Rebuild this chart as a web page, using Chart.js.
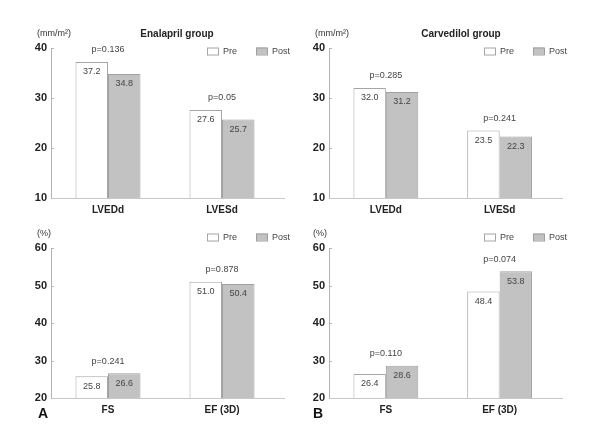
<!DOCTYPE html>
<html>
<head>
<meta charset="utf-8">
<script src="https://cdn.jsdelivr.net/npm/chart.js@4/dist/chart.umd.min.js"></script>
<style>
  html, body { margin: 0; padding: 0; background: #fff; }
  #wrap { position: relative; width: 594px; height: 430px; background: #fff; }
  .panel { position: absolute; width: 297px; height: 215px; }
</style>
</head>
<body>
<div id="wrap">
  <div class="panel" style="left:0;top:0"><canvas id="c1" width="297" height="215"></canvas></div>
  <div class="panel" style="left:297px;top:0"><canvas id="c2" width="297" height="215"></canvas></div>
  <div class="panel" style="left:0;top:215px"><canvas id="c3" width="297" height="215"></canvas></div>
  <div class="panel" style="left:297px;top:215px"><canvas id="c4" width="297" height="215"></canvas></div>
</div>
<script>
// ---- data ----
const dimCategories = ['LVEDd', 'LVESd'];
const funcCategories = ['FS', 'EF (3D)'];
const seriesNames = ['Pre', 'Post'];

const enalaprilDimPre = [37.2, 27.6];
const enalaprilDimPost = [34.8, 25.7];
const enalaprilDimP = ['p=0.136', 'p=0.05'];

const carvedilolDimPre = [32.0, 23.5];
const carvedilolDimPost = [31.2, 22.3];
const carvedilolDimP = ['p=0.285', 'p=0.241'];

const enalaprilFuncPre = [25.8, 51.0];
const enalaprilFuncPost = [26.6, 50.4];
const enalaprilFuncP = ['p=0.241', 'p=0.878'];

const carvedilolFuncPre = [26.4, 48.4];
const carvedilolFuncPost = [28.6, 53.8];
const carvedilolFuncP = ['p=0.110', 'p=0.074'];

const dimTicks = [10, 20, 30, 40];
const funcTicks = [20, 30, 40, 50, 60];

// ---- styling ----
const FONT = "'Liberation Sans', Arial, sans-serif";
const PRE_FILL = '#ffffff', PRE_BORDER = '#a6a6a6';
const POST_FILL = '#c2c2c2', POST_BORDER = '#a0a0a0';
const AXIS_COLOR = '#b4b4b4';

function makePanel(id, cfg) {
  const annot = {
    id: 'annot',
    afterDraw(chart) {
      const ctx = chart.ctx;
      const area = chart.chartArea;
      const xs = chart.scales.x, ys = chart.scales.y;
      ctx.save();
      // extend baseline
      ctx.strokeStyle = '#c8c8c8';
      ctx.lineWidth = 1;
      ctx.beginPath();
      ctx.moveTo(area.right, Math.round(area.bottom) + 0.5);
      ctx.lineTo(cfg.axisEnd, Math.round(area.bottom) + 0.5);
      ctx.stroke();
      // small inward ticks on y axis
      ctx.strokeStyle = AXIS_COLOR;
      ctx.beginPath();
      cfg.ticks.slice(1).forEach(v => {
        const y = Math.round(ys.getPixelForValue(v)) + 0.5;
        ctx.moveTo(area.left, y);
        ctx.lineTo(area.left + 3, y);
      });
      ctx.stroke();
      // value labels
      ctx.font = '9px ' + FONT;
      ctx.fillStyle = '#444';
      ctx.textAlign = 'center';
      ctx.textBaseline = 'middle';
      chart.data.datasets.forEach((ds, di) => {
        const meta = chart.getDatasetMeta(di);
        meta.data.forEach((bar, i) => {
          ctx.fillText(ds.data[i].toFixed(1), bar.x, bar.y + 10);
        });
      });
      // p values
      cfg.pvals.forEach((p, i) => {
        const top = Math.min(ys.getPixelForValue(cfg.pre[i]), ys.getPixelForValue(cfg.post[i]));
        ctx.fillText(p, xs.getPixelForValue(i), top - 12);
      });
      // title
      if (cfg.title) {
        ctx.font = 'bold 10px ' + FONT;
        ctx.fillStyle = '#222';
        ctx.fillText(cfg.title, cfg.titleX, 34);
      }
      // unit
      ctx.font = '9px ' + FONT;
      ctx.fillStyle = '#333';
      ctx.textAlign = 'left';
      ctx.fillText(cfg.unit, cfg.unitX, cfg.unitY);
      // legend
      const ly = cfg.legendY;
      ctx.lineWidth = 1;
      [[cfg.legendX[0], PRE_FILL, PRE_BORDER, seriesNames[0]], [cfg.legendX[1], POST_FILL, POST_BORDER, seriesNames[1]]].forEach(([lx, f, b, t]) => {
        ctx.fillStyle = f;
        ctx.fillRect(lx, ly - 3.5, 11, 7);
        ctx.strokeStyle = b;
        ctx.strokeRect(lx + 0.5, ly - 3.5 + 0.5, 11, 7);
        ctx.fillStyle = '#444';
        ctx.font = '9px ' + FONT;
        ctx.fillText(t, lx + 16, ly + 0.5);
      });
      // letter
      if (cfg.letter) {
        ctx.font = 'bold 14px ' + FONT;
        ctx.fillStyle = '#111';
        ctx.fillText(cfg.letter, cfg.letterX, 199);
      }
      ctx.restore();
    }
  };

  return new Chart(document.getElementById(id), {
    type: 'bar',
    data: {
      labels: cfg.cats,
      datasets: [
        { label: seriesNames[0], data: cfg.pre, backgroundColor: PRE_FILL, borderColor: PRE_BORDER, borderWidth: 1, borderSkipped: 'bottom' },
        { label: seriesNames[1], data: cfg.post, backgroundColor: POST_FILL, borderColor: POST_BORDER, borderWidth: 1, borderSkipped: 'bottom' }
      ]
    },
    options: {
      responsive: false,
      animation: false,
      events: [],
      categoryPercentage: 0.57,
      barPercentage: 1.0,
      layout: { padding: { top: cfg.top, right: 297 - cfg.right, left: 0, bottom: 0 } },
      plugins: { legend: { display: false }, tooltip: { enabled: false }, title: { display: false } },
      scales: {
        x: {
          grid: { display: false, drawTicks: false },
          border: { display: true, color: '#c8c8c8' },
          ticks: { font: { family: FONT, size: 10, weight: 'bold' }, color: '#222', padding: 6 },
          afterFit: s => { s.height = 215 - cfg.bottom; }
        },
        y: {
          min: cfg.ticks[0], max: cfg.ticks[cfg.ticks.length - 1],
          afterBuildTicks: s => { s.ticks = cfg.ticks.map(v => ({ value: v })); },
          grid: { display: false, drawTicks: false },
          border: { display: true, color: AXIS_COLOR },
          ticks: { font: { family: FONT, size: 11, weight: 'bold' }, color: '#222', padding: 4 },
          afterFit: s => { s.width = cfg.left; }
        }
      }
    },
    plugins: [annot]
  });
}

makePanel('c1', {
  cats: dimCategories, pre: enalaprilDimPre, post: enalaprilDimPost, pvals: enalaprilDimP, ticks: dimTicks,
  left: 51, right: 279, top: 48, bottom: 198, axisEnd: 285,
  title: 'Enalapril group', titleX: 177, unit: '(mm/m²)', unitX: 37, unitY: 34,
  legendX: [207, 256], legendY: 51
});
makePanel('c2', {
  cats: dimCategories, pre: carvedilolDimPre, post: carvedilolDimPost, pvals: carvedilolDimP, ticks: dimTicks,
  left: 32, right: 259.5, top: 48, bottom: 198, axisEnd: 266,
  title: 'Carvedilol group', titleX: 164, unit: '(mm/m²)', unitX: 18, unitY: 34,
  legendX: [187, 236], legendY: 51
});
makePanel('c3', {
  cats: funcCategories, pre: enalaprilFuncPre, post: enalaprilFuncPost, pvals: enalaprilFuncP, ticks: funcTicks,
  left: 51, right: 279, top: 33, bottom: 183, axisEnd: 285,
  unit: '(%)', unitX: 37, unitY: 19,
  legendX: [207, 256], legendY: 22, letter: 'A', letterX: 38
});
makePanel('c4', {
  cats: funcCategories, pre: carvedilolFuncPre, post: carvedilolFuncPost, pvals: carvedilolFuncP, ticks: funcTicks,
  left: 32, right: 259.5, top: 33, bottom: 183, axisEnd: 266,
  unit: '(%)', unitX: 16, unitY: 19,
  legendX: [187, 236], legendY: 22, letter: 'B', letterX: 16
});
</script>
</body>
</html>
